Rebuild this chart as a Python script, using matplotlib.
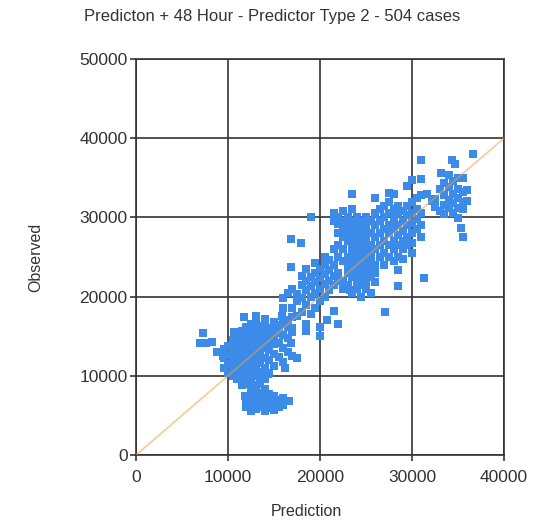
import matplotlib
matplotlib.use("Agg")
import matplotlib.pyplot as plt

# ---- data (thousands): (prediction, [observed ...]) ----
left_outliers = [(7.3, [15.4]), (7.0, [14.1]), (7.6, [14.1]), (8.3, [14.3]),
                 (8.8, [13.0]), (9.5, [12.5])]

low_diag = [
    (9.6, [11.0, 12.2, 13.4]),
    (10.0, [10.3, 11.5, 12.6, 13.8]),
    (10.5, [10.0, 10.9, 11.8, 12.7, 13.6, 14.5]),
    (11.0, [9.6, 10.5, 11.4, 12.3, 13.2, 14.1, 15.0]),
    (11.5, [9.3, 10.2, 11.1, 12.0, 12.9, 13.8, 14.7, 15.6]),
    (12.0, [9.0, 9.9, 10.8, 11.7, 12.6, 13.5, 14.4, 15.3, 16.2]),
    (12.5, [9.4, 10.3, 11.2, 12.1, 13.0, 13.9, 14.8, 15.7, 16.6]),
    (13.0, [8.8, 10.0, 11.0, 12.0, 13.0, 14.0, 15.0, 16.0, 17.0]),
    (13.5, [9.2, 10.5, 11.6, 12.6, 13.6, 14.6, 15.5, 16.3]),
    (14.0, [9.6, 11.0, 12.3, 13.5, 14.5, 15.4, 16.2, 17.2]),
    (14.5, [10.4, 12.0, 13.3, 14.3, 15.2, 16.0]),
    (15.0, [11.2, 12.8, 14.0, 15.0, 15.9, 16.8]),
    (15.5, [12.4, 14.2, 15.4, 16.4]),
    (16.0, [11.8, 13.5, 15.2, 16.6]),
    (16.5, [13.0, 14.8, 16.2]),
    (17.0, [12.5, 15.5, 17.4]),
    (10.6, [15.5]), (11.7, [17.4]), (13.0, [17.6]), (15.9, [17.6]),
    (17.5, [12.3]), (16.8, [14.2]), (16.2, [11.0]),
]

low_blob = [
    (11.5, [8.8]), (11.8, [7.5]), (12.0, [6.0, 7.0]),
    (12.5, [5.6, 6.5, 7.4, 8.3]), (13.0, [5.8, 6.7, 7.6, 8.5]),
    (13.5, [6.0, 6.9, 7.8, 9.0]), (14.0, [5.6, 6.5, 7.4, 8.3]),
    (14.5, [5.9, 6.8, 7.7]), (15.0, [5.7, 6.6, 7.5]),
    (15.5, [6.0, 6.9]), (16.0, [6.3, 7.2]), (16.6, [6.8]),
    (13.8, [9.8]), (14.3, [10.2]),
]

mid_band = [
    (16.0, [18.6, 19.8]), (16.5, [17.0, 20.5]), (17.0, [16.0, 18.5, 21.0]),
    (17.5, [17.5, 19.5, 20.3]), (18.0, [18.0, 19.8, 21.5, 22.6]),
    (18.5, [16.5, 19.0, 20.8, 22.0, 23.5]), (19.0, [17.8, 20.0, 21.3, 22.5]),
    (19.5, [18.5, 20.5, 21.8, 23.0, 24.2]), (20.0, [16.2, 19.5, 21.0, 22.3, 23.5]),
    (20.5, [20.0, 21.6, 22.8, 24.0, 25.0]), (21.0, [20.8, 22.0, 23.4, 24.6]),
    (21.5, [18.2, 21.5, 22.6]),
    (16.8, [23.7, 27.3]), (17.9, [26.8]), (19.0, [30.0]), (20.0, [15.0]),
    (18.5, [15.7]), (20.8, [17.0]), (22.0, [16.6]),
]

main_left = [
    (21.5, [29.5, 30.5, 26.0, 24.0]),
    (22.0, [28.0, 29.2, 30.0, 26.5, 25.0, 23.0, 22.0]),
    (22.5, [27.5, 28.5, 29.5, 30.8, 26.0, 24.5, 22.0, 21.0]),
    (23.0, [27.0, 28.0, 29.0, 30.0, 25.0, 24.0, 23.0, 21.5]),
    (23.5, [26.5, 27.5, 28.5, 29.5, 31.0, 25.5, 24.5, 23.5, 22.5, 20.5, 32.9]),
    (24.0, [26.0, 27.0, 28.0, 29.0, 30.0, 25.0, 24.0, 23.0, 22.0, 21.0]),
    (24.5, [25.5, 26.5, 27.5, 28.5, 29.5, 24.5, 23.5, 22.5, 21.5, 20.0]),
    (25.0, [25.0, 26.0, 27.0, 28.0, 29.0, 30.0, 24.0, 23.0, 22.0, 21.0]),
    (25.5, [24.5, 25.5, 26.5, 28.0, 29.5, 23.5, 22.5, 20.5]),
    (26.0, [24.0, 26.0, 27.5, 29.0, 30.5, 23.0, 21.8, 32.4]),
    (23.3, [20.8]),
]

main_right = [
    (26.5, [26.5, 28.0, 29.5, 31.0, 25.0]),
    (27.0, [27.0, 28.5, 30.0, 31.5, 25.5, 24.0]),
    (27.5, [26.5, 28.0, 29.0, 30.5, 32.0, 25.0, 33.1]),
    (28.0, [27.0, 28.5, 30.0, 31.0, 29.5, 26.0, 24.5, 33.0]),
    (28.5, [26.5, 27.8, 29.0, 30.5, 31.5, 25.0, 23.3, 21.4]),
    (29.0, [27.0, 28.3, 29.6, 30.8, 26.0, 24.8]),
    (29.5, [27.5, 29.0, 30.3, 31.5, 26.5, 34.0]),
    (30.0, [28.0, 29.3, 30.5, 32.0, 26.8, 25.5, 34.7]),
    (30.5, [28.5, 29.8, 31.0, 32.5]),
    (31.0, [29.0, 30.5, 32.8, 34.9, 37.2, 27.5]),
    (31.3, [22.4]), (27.1, [18.0]),
]

upper_right = [
    (36.6, [38.0]), (34.3, [37.2]), (34.7, [36.8]), (33.2, [35.6]),
    (34.0, [35.3]), (35.0, [35.0]),
    (32.5, [31.3, 32.3]), (33.0, [30.8, 33.6]),
    (33.5, [30.4, 31.6, 32.8, 34.3]), (34.0, [31.2, 32.2, 33.8]),
    (34.5, [30.6, 31.8, 33.0, 34.6]), (35.0, [29.9, 31.2, 32.4, 33.6]),
    (35.5, [31.0, 32.0, 33.2, 35.0]), (36.0, [32.1, 33.4]),
    (35.3, [28.7]), (35.5, [27.5]), (32.2, [32.1]), (31.6, [33.0]),
]

clusters = [left_outliers, low_diag, low_blob, mid_band, main_left, main_right, upper_right]

x_ticks = [0, 10000, 20000, 30000, 40000]
y_ticks = [0, 10000, 20000, 30000, 40000, 50000]
title = "Predicton + 48 Hour - Predictor Type 2 - 504 cases"

pred, obs = [], []
for cl in clusters:
    for xv, ys in cl:
        for yv in ys:
            pred.append(xv * 1000)
            obs.append(yv * 1000)

plt.rcParams['font.family'] = ['Liberation Sans', 'DejaVu Sans']

fig = plt.figure(figsize=(5.47, 5.24), dpi=100)
ax = fig.add_axes([136 / 547, 1 - 455 / 524, 368 / 547, 396 / 524])

grid_col = '#333333'
ax.set_xlim(0, 40000)
ax.set_ylim(0, 50000)
ax.set_xticks(x_ticks)
ax.set_yticks(y_ticks)
ax.grid(True, color=grid_col, linewidth=1.2, zorder=0)
ax.set_axisbelow(True)
for s in ax.spines.values():
    s.set_color(grid_col)
    s.set_linewidth(1.2)
ax.tick_params(direction='out', length=4, width=1.2, color=grid_col,
               labelsize=12.5, labelcolor='#333333')
ax.tick_params(axis='x', pad=7)
ax.tick_params(axis='y', pad=2)

ax.scatter(pred, obs, marker='s', s=32, color='#3d8be8', linewidths=0, zorder=3)
ax.plot([0, 40000], [0, 40000], color='#f0a040', alpha=0.55, linewidth=1.2, zorder=4)

fig.text(0.497, 1 - 16 / 524, title, ha='center', va='center', fontsize=12, color='#333333')
fig.text(306 / 547, 1 - 511 / 524, 'Prediction', ha='center', va='center', fontsize=11.5, color='#333333')
fig.text(36 / 547, 1 - 257 / 524, 'Observed', ha='center', va='center', rotation=90,
         fontsize=11.5, color='#333333')

fig.savefig('out.png', dpi=100)
